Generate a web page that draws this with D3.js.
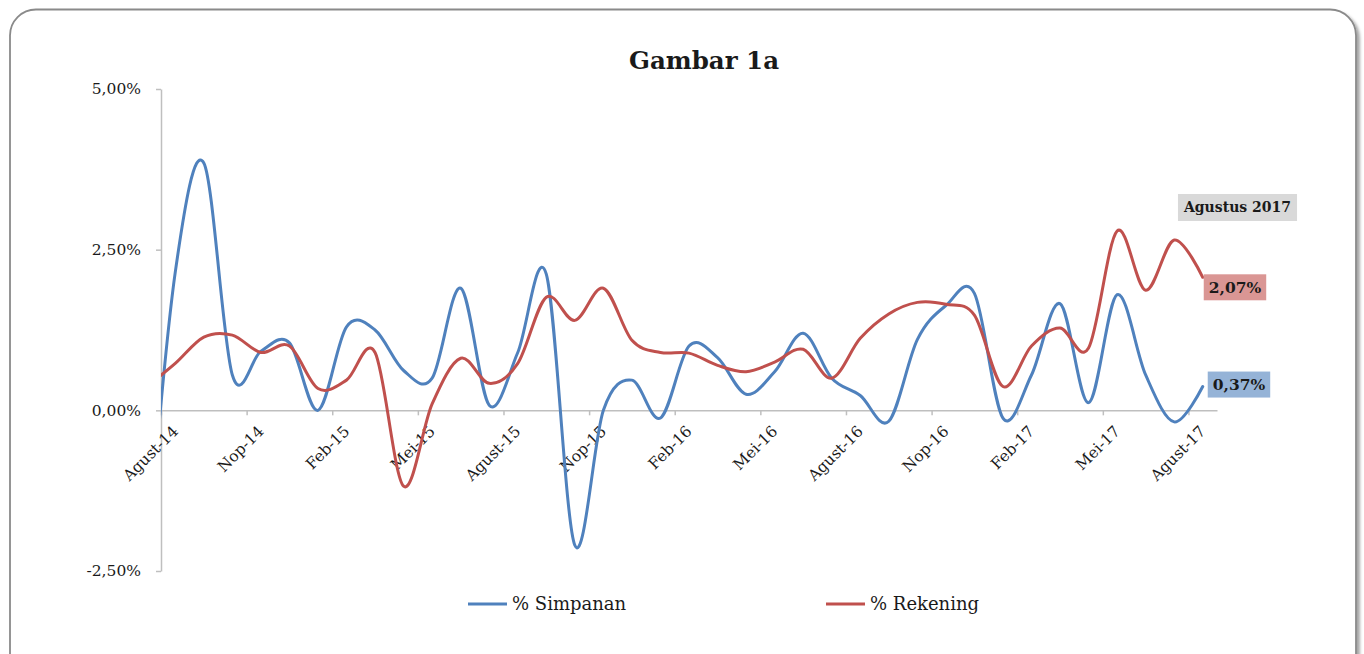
<!DOCTYPE html>
<html>
<head>
<meta charset="utf-8">
<script src="https://cdn.jsdelivr.net/npm/d3@7"></script>
<style>
  body { margin: 0; background: #fff; }
  text { font-family: "DejaVu Serif", serif; fill: #1a1a1a; }
</style>
</head>
<body>
<div class="chart"></div>
<script>
// bulan: Jul-14 only feeds the clipped start of the curves
const bulan = ["Jul-14","Agust-14","Sep-14","Okt-14","Nop-14","Des-14",
  "Jan-15","Feb-15","Mar-15","Apr-15","Mei-15","Jun-15","Jul-15","Agust-15","Sep-15","Okt-15","Nop-15","Des-15",
  "Jan-16","Feb-16","Mar-16","Apr-16","Mei-16","Jun-16","Jul-16","Agust-16","Sep-16","Okt-16","Nop-16","Des-16",
  "Jan-17","Feb-17","Mar-17","Apr-17","Mei-17","Jun-17","Jul-17","Agust-17"];

const simpanan = [-2.4, 2.15, 3.85, 0.55, 0.92, 1.05,
  0.0, 1.3, 1.25, 0.62, 0.5, 1.9, 0.08, 0.9, 2.12, -2.1, 0.0, 0.47,
  -0.12, 1.0, 0.82, 0.25, 0.6, 1.2, 0.5, 0.23, -0.17, 1.1, 1.63, 1.82,
  -0.12, 0.55, 1.66, 0.12, 1.8, 0.55, -0.18, 0.37];

const rekening = [0.37, 0.73, 1.14, 1.17, 0.9, 1.0,
  0.34, 0.47, 0.9, -1.18, 0.1, 0.81, 0.42, 0.73, 1.76, 1.4, 1.9, 1.09,
  0.9, 0.89, 0.7, 0.6, 0.75, 0.95, 0.5, 1.12, 1.5, 1.68, 1.65, 1.48,
  0.37, 1.0, 1.28, 0.97, 2.79, 1.87, 2.65, 2.07];

const yTicks = [-2.5, 0, 2.5, 5];
const seriesNames = ["% Simpanan", "% Rekening"];
const seriesColors = ["#4f81bd", "#c0504d"];
const judul = "Gambar 1a";
const catatan = "Agustus 2017";

const W = 1364, H = 654;
const plot = {left: 161, right: 1217, top: 89, bottom: 571};

const svg = d3.select('.chart')
  .append('svg')
  .attr('width', W)
  .attr('height', H);

const defs = svg.append('defs');
const shadow = defs.append('filter').attr('id', 'shadow')
  .attr('x', '-5%').attr('y', '-5%').attr('width', '110%').attr('height', '110%');
shadow.append('feDropShadow')
  .attr('dx', 3).attr('dy', 3).attr('stdDeviation', 1.5)
  .attr('flood-color', '#000').attr('flood-opacity', 0.35);

defs.append('clipPath').attr('id', 'plotclip')
  .append('rect')
  .attr('x', plot.left).attr('y', plot.top)
  .attr('width', plot.right - plot.left)
  .attr('height', plot.bottom - plot.top);

// chart frame
svg.append('rect')
  .attr('x', 10).attr('y', 9.5)
  .attr('width', 1346).attr('height', 680)
  .attr('rx', 26).attr('ry', 26)
  .attr('fill', '#fff')
  .attr('stroke', '#8a8a8a')
  .attr('stroke-width', 1.8)
  .attr('filter', 'url(#shadow)');

// index 0 = Agust-14, Jul-14 sits at -1 (outside the plot, clipped)
const idx = bulan.map((d, i) => i - 1);
const nCat = bulan.length - 1;

const xScale = d3.scaleLinear()
  .domain([-0.5, nCat - 0.5])
  .range([plot.left, plot.right]);

const yScale = d3.scaleLinear()
  .domain([-2.5, 5])
  .range([plot.bottom, plot.top]);

const fmtPct = v => v.toFixed(2).replace('.', ',') + '%';

// title
svg.append('text')
  .attr('x', 704).attr('y', 69)
  .attr('text-anchor', 'middle')
  .attr('font-size', 24.5)
  .attr('font-weight', 'bold')
  .text(judul);

// y axis
const yAxis = d3.axisLeft(yScale)
  .tickValues(yTicks)
  .tickFormat(fmtPct)
  .tickSizeInner(5)
  .tickSizeOuter(0)
  .tickPadding(15);

const gy = svg.append('g')
  .attr('class', 'axis y-axis')
  .attr('transform', 'translate(' + plot.left + ',0)')
  .call(yAxis);
gy.select('.domain').attr('stroke', '#bfbfbf').attr('stroke-width', 1.5);
gy.selectAll('.tick line').attr('stroke', '#bfbfbf').attr('stroke-width', 1.5);
gy.selectAll('.tick text')
  .attr('font-family', '"DejaVu Serif", serif')
  .attr('font-size', 15.5)
  .attr('fill', '#1a1a1a');

// x axis: tick marks between categories, every 3 months
const tickBounds = d3.range(-0.5, nCat - 0.5, 3);
const xAxis = d3.axisBottom(xScale)
  .tickValues(tickBounds)
  .tickFormat('')
  .tickSizeInner(5)
  .tickSizeOuter(0);

const gx = svg.append('g')
  .attr('class', 'axis x-axis')
  .attr('transform', 'translate(0,' + yScale(0) + ')')
  .call(xAxis);
gx.select('.domain').attr('stroke', '#bfbfbf').attr('stroke-width', 1.5);
gx.selectAll('.tick line').attr('stroke', '#bfbfbf').attr('stroke-width', 1.5);

const labelIdx = idx.filter(i => i >= 0 && i % 3 === 0);
svg.append('g')
  .selectAll('text')
  .data(labelIdx)
  .enter()
  .append('text')
  .attr('transform', i => 'translate(' + xScale(i) + ',' + (yScale(0) + 18) + ') rotate(-45)')
  .attr('text-anchor', 'end')
  .attr('dy', '0.35em')
  .attr('font-size', 15.5)
  .text(i => bulan[i + 1]);

// lines
const series = [simpanan, rekening];
const line = d3.line()
  .x((d, i) => xScale(idx[i]))
  .y(d => yScale(d))
  .curve(d3.curveCardinal.tension(0));

svg.append('g')
  .attr('clip-path', 'url(#plotclip)')
  .selectAll('path')
  .data(series)
  .enter()
  .append('path')
  .attr('d', d => line(d))
  .attr('fill', 'none')
  .attr('stroke', (d, i) => seriesColors[i])
  .attr('stroke-width', 3)
  .attr('stroke-linejoin', 'round')
  .attr('stroke-linecap', 'round');

// data labels on the last point
const last = idx[idx.length - 1];
const labelFills = ["#95b3d7", "#da9694"];
const labelOffset = [{dx: 5, dy: -2}, {dx: 1, dy: 10}];

series.forEach((s, k) => {
  const v = s[s.length - 1];
  const g = svg.append('g');
  const t = g.append('text')
    .attr('font-size', 15.5)
    .attr('font-weight', 'bold')
    .attr('dy', '0.35em')
    .text(fmtPct(v));
  const tw = t.node().getComputedTextLength();
  const bx = xScale(last) + labelOffset[k].dx;
  const cy = yScale(v) + labelOffset[k].dy;
  g.insert('rect', 'text')
    .attr('x', bx).attr('y', cy - 13)
    .attr('width', tw + 10).attr('height', 26)
    .attr('fill', labelFills[k]);
  t.attr('x', bx + 5).attr('y', cy);
});

// "Agustus 2017" note
const note = svg.append('g');
const nt = note.append('text')
  .attr('font-size', 14)
  .attr('font-weight', 'bold')
  .attr('dy', '0.35em')
  .text(catatan);
const nw = nt.node().getComputedTextLength();
note.insert('rect', 'text')
  .attr('x', 1237.5 - nw / 2 - 6).attr('y', 194)
  .attr('width', nw + 12).attr('height', 27)
  .attr('fill', '#d9d9d9');
nt.attr('x', 1237.5 - nw / 2).attr('y', 207.5);

// legend
const legendX = [468, 826];
const legend = svg.selectAll('.legend')
  .data(seriesNames)
  .enter()
  .append('g')
  .attr('class', 'legend')
  .attr('transform', (d, i) => 'translate(' + legendX[i] + ',604)');

legend.append('line')
  .attr('x1', 0).attr('x2', 39)
  .attr('stroke', (d, i) => seriesColors[i])
  .attr('stroke-width', 3);

legend.append('text')
  .attr('x', 44)
  .attr('dy', '0.35em')
  .attr('font-size', 18)
  .text(d => d);
</script>
</body>
</html>
